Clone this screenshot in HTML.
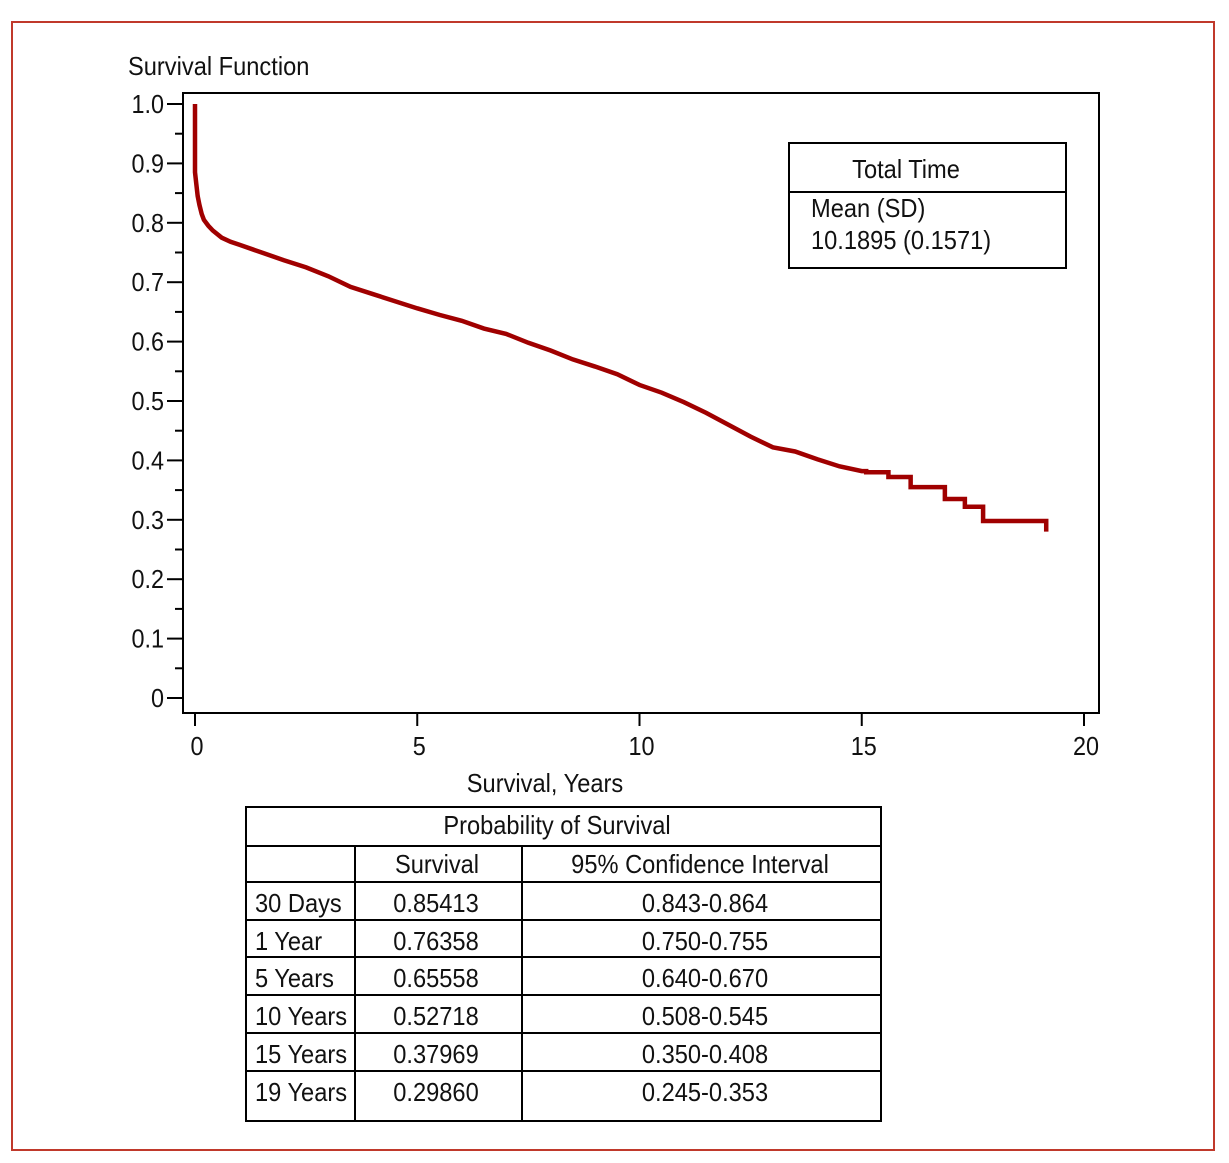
<!DOCTYPE html>
<html><head><meta charset="utf-8"><style>
html,body{margin:0;padding:0;background:#fff;}
svg{display:block;}
text{font-family:"Liberation Sans",sans-serif;fill:#111;}
</style></head><body>
<svg id="chart" width="1229" height="1163" viewBox="0 0 1229 1163">
<rect x="12" y="22" width="1202" height="1128" fill="none" stroke="#c0392b" stroke-width="2"/>
<rect x="183" y="93" width="916" height="620" fill="none" stroke="#000" stroke-width="2"/>
<g id="axes"></g>
<path id="curve" fill="none" stroke="#a00000" stroke-width="4.5" stroke-linejoin="miter"/>
<g>
<rect x="789" y="143" width="277" height="125" fill="#fff" stroke="#000" stroke-width="2"/>
<line x1="789" y1="192" x2="1066" y2="192" stroke="#000" stroke-width="2"/>
</g>
<g id="texts"></g>
<g id="table"></g>
</svg>
<script>
const xTicks=[0,5,10,15,20];
const yTicks=[0,0.1,0.2,0.3,0.4,0.5,0.6,0.7,0.8,0.9,1.0];
const yTickLabels=["0","0.1","0.2","0.3","0.4","0.5","0.6","0.7","0.8","0.9","1.0"];
const times=[0,0,0.03,0.06,0.1,0.15,0.2,0.3,0.4,0.6,0.8,1,1.5,2,2.5,3,3.5,4,4.5,5,5.5,6,6.5,7,7.5,8,8.5,9,9.5,10,10.5,11,11.5,12,12.5,13,13.5,14,14.5,15,15.1,15.6,16.1,16.87,17.32,17.73,19.15];
const surv=[1.0,0.885,0.865,0.845,0.83,0.815,0.805,0.795,0.787,0.775,0.768,0.763,0.75,0.737,0.725,0.71,0.692,0.68,0.668,0.656,0.645,0.635,0.622,0.613,0.598,0.585,0.57,0.558,0.545,0.527,0.514,0.498,0.48,0.46,0.44,0.422,0.415,0.402,0.39,0.382,0.38,0.372,0.355,0.335,0.322,0.298,0.28];
const stepFromTime=15.05;
const rowLabels=["30 Days","1 Year","5 Years","10 Years","15 Years","19 Years"];
const survVals=["0.85413","0.76358","0.65558","0.52718","0.37969","0.29860"];
const ciVals=["0.843-0.864","0.750-0.755","0.640-0.670","0.508-0.545","0.350-0.408","0.245-0.353"];
const NS="http://www.w3.org/2000/svg";
const X=t=>195+t*(1084-195)/20;
const Y=v=>698-v*(698-104);
function mk(tag,attrs,parent){const e=document.createElementNS(NS,tag);for(const k in attrs)e.setAttribute(k,attrs[k]);parent.appendChild(e);return e;}
function txt(parent,s,x,y,anchor,size,name,sx){
 const g=mk('g',{transform:`translate(${x},${y}) scale(${sx||0.91},1)`},parent);
 const t=mk('text',{x:0,y:0,'text-anchor':anchor||'start','font-size':size||26},g);
 t.textContent=s;
 
 
 return t;
}
const ax=document.getElementById('axes');
yTicks.forEach((v,i)=>{
 const l=mk('line',{x1:167,x2:183,y1:Y(v),y2:Y(v),stroke:'#000','stroke-width':2},ax);
 
 
 txt(ax,yTickLabels[i],164,Y(v)+9,'end',26,'y-tick-label',0.9);
 if(i<yTicks.length-1){
  const m=mk('line',{x1:175,x2:183,y1:Y(v+0.05),y2:Y(v+0.05),stroke:'#000','stroke-width':2},ax);
  
  
 }
});
xTicks.forEach(t=>{
 const l=mk('line',{x1:X(t),x2:X(t),y1:713,y2:726,stroke:'#000','stroke-width':2},ax);
 
 
 txt(ax,String(t),X(t)+2,755,'middle',26,'x-tick-label',0.9);
});
let d=`M${X(times[0])},${Y(surv[0])}`;
for(let i=1;i<times.length;i++){
 if(times[i]<=stepFromTime) d+=` L${X(times[i])},${Y(surv[i])}`;
 else d+=` H${X(times[i])} V${Y(surv[i])}`;
}
document.getElementById('curve').setAttribute('d',d);
const tx=document.getElementById('texts');
txt(tx,'Survival Function',128,75,'start',26,'y-axis-title');
txt(tx,'Survival, Years',545,792,'middle',26,'x-axis-title');
txt(tx,'Total Time',906,178,'middle',26,'legend-title');
txt(tx,'Mean (SD)',811,217,'start',26,'legend-label');
txt(tx,'10.1895 (0.1571)',811,249,'start',26,'legend-value');
const tb=document.getElementById('table');
mk('rect',{x:246,y:807,width:635,height:314,fill:'none',stroke:'#000','stroke-width':2},tb);
const hl=[846,882,920,957,995,1033,1071];
hl.forEach(y=>mk('line',{x1:246,x2:881,y1:y,y2:y,stroke:'#000','stroke-width':2},tb));
[355,522].forEach(x=>mk('line',{x1:x,x2:x,y1:846,y2:1121,stroke:'#000','stroke-width':2},tb));
txt(tb,'Probability of Survival',557,834,'middle',26,'table-title');
txt(tb,'Survival',437,873,'middle',26,'col-header-survival');
txt(tb,'95% Confidence Interval',700,873,'middle',26,'col-header-ci');
const rowY=[912,950,987,1025,1063,1101];
rowLabels.forEach((r,i)=>{
 txt(tb,r,255,rowY[i],'start',26,'row-label');
 txt(tb,survVals[i],436,rowY[i],'middle',26,'survival-value');
 txt(tb,ciVals[i],705,rowY[i],'middle',26,'ci-value');
});
</script>
</body></html>
